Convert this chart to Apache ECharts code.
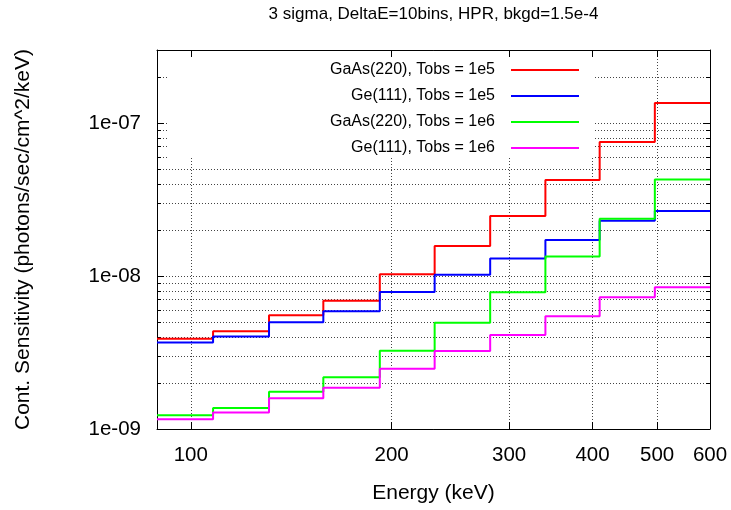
<!DOCTYPE html>
<html>
<head>
<meta charset="utf-8">
<script src="https://cdn.jsdelivr.net/npm/echarts@6/dist/echarts.min.js"></script>
<style>
  html, body { margin: 0; padding: 0; background: #ffffff; }
  #chart { width: 731px; height: 510px; }
</style>
</head>
<body>
<div id="chart"></div>
<script>
// Energy bin edges (keV); each level holds from one edge to the next
const energyEdges = [89, 108, 131, 158, 192, 232, 281, 340, 410, 496, 600];

// Continuum sensitivity per energy bin (photons/sec/cm^2/keV)
const gaas220Tobs1e5 = [3.89e-9, 4.35e-9, 5.53e-9, 6.90e-9, 1.025e-8, 1.57e-8, 2.47e-8, 4.24e-8, 7.51e-8, 1.35e-7];
const ge111Tobs1e5   = [3.67e-9, 4.03e-9, 4.98e-9, 5.88e-9, 7.86e-9, 1.02e-8, 1.30e-8, 1.72e-8, 2.30e-8, 2.66e-8];
const gaas220Tobs1e6 = [1.23e-9, 1.37e-9, 1.75e-9, 2.18e-9, 3.25e-9, 4.95e-9, 7.82e-9, 1.34e-8, 2.37e-8, 4.28e-8];
const ge111Tobs1e6   = [1.16e-9, 1.28e-9, 1.59e-9, 1.86e-9, 2.48e-9, 3.24e-9, 4.11e-9, 5.45e-9, 7.26e-9, 8.43e-9];

const seriesNames = [
  'GaAs(220), Tobs = 1e5',
  'Ge(111), Tobs = 1e5',
  'GaAs(220), Tobs = 1e6',
  'Ge(111), Tobs = 1e6'
];
const seriesColors = ['#ff0000', '#0000ff', '#00ff00', '#ff00ff'];

// Axis ticks
const xTickValues = [100, 200, 300, 400, 500, 600];
const yMajorValues = [1e-9, 1e-8, 1e-7];
const yMajorLabels = ['1e-09', '1e-08', '1e-07'];
const yMinorValues = [
  2e-9, 3e-9, 4e-9, 5e-9, 6e-9, 7e-9, 8e-9, 9e-9,
  2e-8, 3e-8, 4e-8, 5e-8, 6e-8, 7e-8, 8e-8, 9e-8,
  2e-7, 3e-7
];

const titleText = '3 sigma, DeltaE=10bins, HPR, bkgd=1.5e-4';
const xName = 'Energy (keV)';
const yName = 'Cont. Sensitivity (photons/sec/cm^2/keV)';

const FONT = '"Liberation Sans", Arial, Helvetica, sans-serif';
const X_MIN = 89, X_MAX = 600, Y_MIN = 1e-9, Y_MAX = 3e-7;

// Histogram-style points: the last level is carried to the final edge
function stepPoints(levels) {
  return energyEdges.map((e, i) => [e, levels[Math.min(i, levels.length - 1)]]);
}

const allSeries = [gaas220Tobs1e5, ge111Tobs1e5, gaas220Tobs1e6, ge111Tobs1e6];

const gridLine = { show: true, lineStyle: { color: '#444', width: 1, type: [1, 2] } };
const frameLine = { show: true, lineStyle: { color: '#000', width: 1 } };

function yAxisBase(position, extra) {
  return Object.assign({
    type: 'log', logBase: 10, min: Y_MIN, max: Y_MAX, position: position,
    axisLine: { show: false }, axisLabel: { show: false },
    splitLine: { show: false }, minorTick: { show: false }
  }, extra);
}

const chart = echarts.init(document.getElementById('chart'), null, { renderer: 'canvas' });

chart.setOption({
  animation: false,
  backgroundColor: '#ffffff',
  grid: { left: 157, right: 21, top: 50, bottom: 81, containLabel: false },
  legend: {
    orient: 'vertical',
    align: 'right',
    right: 152,
    top: 62,
    padding: 0,
    itemWidth: 68,
    itemHeight: 14,
    itemGap: 10,
    z: 6,
    textStyle: { fontFamily: FONT, fontSize: 16, color: '#000', lineHeight: 16, padding: [0, 11, 0, 0] },
    data: seriesNames.map((n, i) => ({ name: n, icon: 'path://M0,6.5L68,6.5L68,8.5L0,8.5Z', itemStyle: { color: seriesColors[i] } }))
  },
  graphic: [
    {
      // key backdrop hides the grid behind the legend
      type: 'rect', z: 1, silent: true,
      shape: { x: 169, y: 51, width: 426, height: 107 },
      style: { fill: '#ffffff' }
    },
    {
      type: 'text', z: 10, x: 433.5, y: 14,
      style: { text: titleText, font: '17px ' + FONT, fill: '#000', align: 'center', verticalAlign: 'middle' }
    }
  ],
  xAxis: [
    {
      type: 'log', logBase: 10, min: X_MIN, max: X_MAX, position: 'bottom', z: 0,
      name: xName, nameLocation: 'middle', nameGap: 54,
      nameTextStyle: { fontFamily: FONT, fontSize: 21, color: '#000' },
      axisLine: frameLine,
      axisTick: { show: true, inside: true, length: 7, customValues: xTickValues, lineStyle: { color: '#000' } },
      axisLabel: { show: true, customValues: xTickValues, margin: 16, fontFamily: FONT, fontSize: 20.5, color: '#000',
                   formatter: v => String(Math.round(v)) },
      splitLine: gridLine,
      minorTick: { show: false }
    },
    {
      type: 'log', logBase: 10, min: X_MIN, max: X_MAX, position: 'top', z: 3,
      axisLine: frameLine,
      axisTick: { show: true, inside: true, length: 7, customValues: xTickValues, lineStyle: { color: '#000' } },
      axisLabel: { show: false },
      splitLine: { show: false },
      minorTick: { show: false }
    }
  ],
  yAxis: [
    yAxisBase('left', {
      z: 0,
      name: yName, nameLocation: 'middle', nameRotate: 90, nameGap: 123,
      nameTextStyle: { fontFamily: FONT, fontSize: 21, color: '#000' },
      axisLine: frameLine,
      axisTick: { show: true, inside: true, length: 4, customValues: yMajorValues.concat(yMinorValues), lineStyle: { color: '#000' } },
      axisLabel: { show: true, customValues: yMajorValues, margin: 16, fontFamily: FONT, fontSize: 20.5, color: '#000',
                   padding: [5, 0, 0, 0],
                   formatter: v => {
                     const k = yMajorValues.findIndex(m => Math.abs(m - v) / m < 1e-6);
                     return k >= 0 ? yMajorLabels[k] : '';
                   } },
      splitLine: gridLine
    }),
    yAxisBase('left', {
      z: 3,
      axisTick: { show: true, inside: true, length: 7, customValues: yMajorValues, lineStyle: { color: '#000' } }
    }),
    yAxisBase('right', {
      z: 3,
      axisLine: frameLine,
      axisTick: { show: true, inside: true, length: 4, customValues: yMajorValues.concat(yMinorValues), lineStyle: { color: '#000' } }
    }),
    yAxisBase('right', {
      z: 3,
      axisTick: { show: true, inside: true, length: 7, customValues: yMajorValues, lineStyle: { color: '#000' } }
    })
  ],
  series: allSeries.map((levels, i) => ({
    name: seriesNames[i],
    type: 'line',
    step: 'end',
    xAxisIndex: 0,
    yAxisIndex: 0,
    symbol: 'none',
    showSymbol: false,
    z: 2,
    color: seriesColors[i],
    lineStyle: { color: seriesColors[i], width: 2 },
    data: stepPoints(levels)
  }))
});
</script>
</body>
</html>
